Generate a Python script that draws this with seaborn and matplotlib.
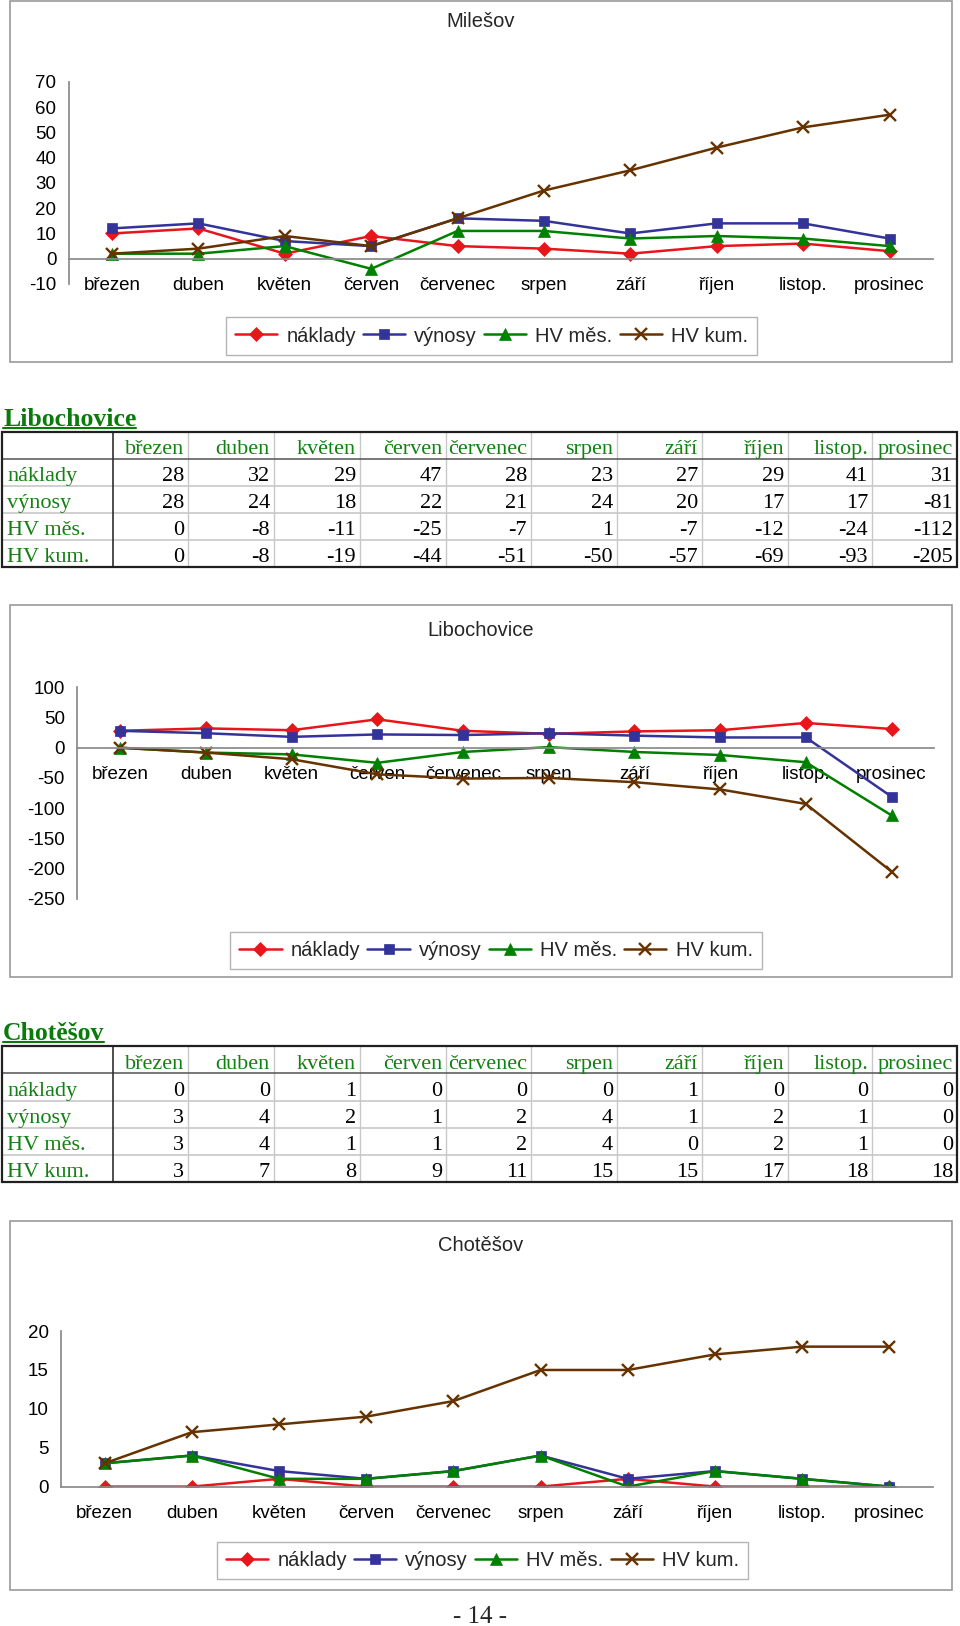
# Hospodaření po měsících - Milešov, Libochovice, Chotěšov

import numpy as np
import pandas as pd
import seaborn as sns
import matplotlib.pyplot as plt
from matplotlib.patches import Rectangle

sns.set_theme(style="white")
plt.rcParams['font.family'] = ['Liberation Sans', 'DejaVu Sans']
plt.rcParams['axes.unicode_minus'] = False

# Data
months = ['březen', 'duben', 'květen', 'červen', 'červenec', 'srpen', 'září', 'říjen', 'listop.', 'prosinec']
series_names = ['náklady', 'výnosy', 'HV měs.', 'HV kum.']

# Milešov
mil_naklady = [10, 12, 2, 9, 5, 4, 2, 5, 6, 3]
mil_vynosy = [12, 14, 7, 5, 16, 15, 10, 14, 14, 8]
mil_hv_mes = [2, 2, 5, -4, 11, 11, 8, 9, 8, 5]
mil_hv_kum = [2, 4, 9, 5, 16, 27, 35, 44, 52, 57]

# Libochovice
lib_naklady = [28, 32, 29, 47, 28, 23, 27, 29, 41, 31]
lib_vynosy = [28, 24, 18, 22, 21, 24, 20, 17, 17, -81]
lib_hv_mes = [0, -8, -11, -25, -7, 1, -7, -12, -24, -112]
lib_hv_kum = [0, -8, -19, -44, -51, -50, -57, -69, -93, -205]

# Chotěšov
cho_naklady = [0, 0, 1, 0, 0, 0, 1, 0, 0, 0]
cho_vynosy = [3, 4, 2, 1, 2, 4, 1, 2, 1, 0]
cho_hv_mes = [3, 4, 1, 1, 2, 4, 0, 2, 1, 0]
cho_hv_kum = [3, 7, 8, 9, 11, 15, 15, 17, 18, 18]

# Styles
colors = ['#E8161B', '#333399', '#008000', '#663300']
markers = ['D', 's', '^', 'x']
msizes = [7.2, 7, 8, 8]
axis_gray = '#8a8a8a'
table_green = '#138013'

W, H = 960, 1626
fig = plt.figure(figsize=(W / 100, H / 100), dpi=100)

# page layer in pixel coordinates
page = fig.add_axes([0, 0, 1, 1], zorder=0)
page.set_xlim(0, W)
page.set_ylim(H, 0)
page.axis('off')


def draw_chart(left, right, top, bottom, values, ylim, yticks, title, title_y, box, legend_xy):
    ax = fig.add_axes([left / W, 1 - bottom / H, (right - left) / W, (bottom - top) / H], zorder=2)
    ax.set_facecolor('none')
    x = np.arange(len(months))
    for name, vals, col, mk, ms in zip(series_names, values, colors, markers, msizes):
        df = pd.DataFrame({'x': x, 'y': vals})
        sns.lineplot(data=df, x='x', y='y', ax=ax, color=col, marker=mk, markersize=ms,
                     linewidth=1.8, markeredgecolor=col,
                     markeredgewidth=1.7 if mk == 'x' else 0.5, label=name)
    ax.set_xlim(-0.5, len(months) - 0.5)
    ax.set_ylim(*ylim)
    ax.set_xlabel('')
    ax.set_ylabel('')
    for s in ['top', 'right']:
        ax.spines[s].set_visible(False)
    ax.spines['bottom'].set_position(('data', 0))
    ax.spines['bottom'].set_color(axis_gray)
    ax.spines['left'].set_color(axis_gray)
    ax.set_xticks(x)
    ax.set_xticklabels(months)
    ax.set_xticks(np.arange(-0.5, len(months), 1), minor=True)
    ax.tick_params(axis='x', which='major', length=0, pad=13.5, labelsize=13.5, colors='black')
    ax.tick_params(axis='x', which='minor', length=5, direction='out', color=axis_gray, width=1)
    ax.set_yticks(yticks)
    ax.tick_params(axis='y', length=4, color=axis_gray, pad=5, labelsize=13.5, labelcolor='black')
    leg = ax.legend(loc='center', bbox_to_anchor=(legend_xy[0] / W, 1 - legend_xy[1] / H),
                    bbox_transform=fig.transFigure, ncol=4, frameon=True, fancybox=False,
                    edgecolor='#a0a0a0', fontsize=14.5, handlelength=2.1, handletextpad=0.45,
                    columnspacing=0.35, borderpad=0.45)
    leg.get_frame().set_linewidth(1.0)
    page.add_patch(Rectangle((box[0], box[1]), box[2] - box[0], box[3] - box[1],
                             fill=False, edgecolor='#9a9a9a', lw=1.2))
    page.text(481, title_y, title, ha='center', va='center', fontsize=14.5)
    return ax


col_edges = [2, 113, 188, 274, 360, 446, 531, 617, 702, 788, 872, 957]
underlines = []


def draw_table(top, bottom, title, rows):
    row_h = (bottom - top) / 5
    t = page.text(3, top - 6, title, ha='left', va='baseline', fontsize=18.5, fontweight='bold',
                  family='Liberation Serif', color='#0a7a0a')
    underlines.append((t, top - 4))
    # light inner lines
    for i in range(2, len(col_edges) - 1):
        page.plot([col_edges[i], col_edges[i]], [top, bottom], color='#c8c8c8', lw=1, zorder=1)
    for r in range(2, 5):
        page.plot([col_edges[0], col_edges[-1]], [top + r * row_h] * 2, color='#c8c8c8', lw=1.2, zorder=1)
    page.plot([col_edges[0], col_edges[-1]], [top + row_h] * 2, color='#606060', lw=1.2, zorder=2)
    page.plot([col_edges[1], col_edges[1]], [top, bottom], color='#303030', lw=1.2, zorder=2)
    page.add_patch(Rectangle((col_edges[0], top), col_edges[-1] - col_edges[0], bottom - top,
                             fill=False, edgecolor='#202020', lw=1.6, zorder=3))
    for i, m in enumerate(months):
        page.text(col_edges[i + 2] - 4, top + row_h - 4.5, m, ha='right', va='baseline',
                  fontsize=16, family='Liberation Serif', color=table_green)
    for r, (label, vals) in enumerate(zip(series_names, rows)):
        base = top + (r + 2) * row_h - 5
        page.text(7, base, label, ha='left', va='baseline', fontsize=16,
                  family='Liberation Serif', color=table_green)
        for i, v in enumerate(vals):
            page.text(col_edges[i + 2] - 4, base, str(v), ha='right', va='baseline',
                      fontsize=16, family='Liberation Serif', color='black')


# Milešov chart
draw_chart(68.8, 932.7, 81.9, 284, [mil_naklady, mil_vynosy, mil_hv_mes, mil_hv_kum],
           (-10, 70), np.arange(-10, 71, 10), 'Milešov', 21.5, (10, 1, 952, 362), (491.5, 336))

# Libochovice table + chart
draw_table(431.7, 567.3, 'Libochovice', [lib_naklady, lib_vynosy, lib_hv_mes, lib_hv_kum])
draw_chart(77.4, 934.4, 687.3, 898.8, [lib_naklady, lib_vynosy, lib_hv_mes, lib_hv_kum],
           (-250, 100), np.arange(-250, 101, 50), 'Libochovice', 630, (10, 605, 952, 977), (496, 950.5))

# Chotěšov table + chart
draw_table(1046, 1182.3, 'Chotěšov', [cho_naklady, cho_vynosy, cho_hv_mes, cho_hv_kum])
draw_chart(61.1, 933, 1331.1, 1486.6, [cho_naklady, cho_vynosy, cho_hv_mes, cho_hv_kum],
           (0, 20), np.arange(0, 21, 5), 'Chotěšov', 1245, (10, 1221, 952, 1590), (482.5, 1560.8))

page.text(480, 1616.5, '- 14 -', ha='center', va='center', fontsize=18, family='Liberation Serif')

# underline the table titles
fig.canvas.draw()
inv = page.transData.inverted()
for t, y in underlines:
    bb = t.get_window_extent()
    x0 = inv.transform((bb.x0, bb.y0))[0]
    x1 = inv.transform((bb.x1, bb.y0))[0]
    page.plot([x0, x1], [y, y], color='#0a7a0a', lw=1.5)

fig.savefig('out.png', dpi=100)
